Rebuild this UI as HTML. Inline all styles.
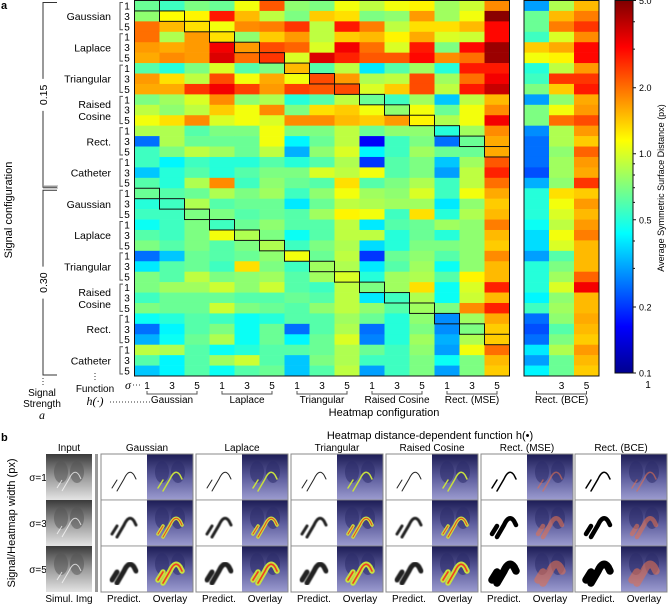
<!DOCTYPE html>
<html><head><meta charset="utf-8">
<style>
body{margin:0;background:#fff;}
svg{display:block;font-family:"Liberation Sans",Arial,sans-serif;}
</style></head>
<body>
<svg id="fig" width="668" height="604" viewBox="0 0 668 604" xmlns="http://www.w3.org/2000/svg">
<defs>
<linearGradient id="cbgrad" x1="0" y1="1" x2="0" y2="0">
<stop offset="0" stop-color="#00008f"/><stop offset="0.125" stop-color="#0000ff"/><stop offset="0.375" stop-color="#00ffff"/><stop offset="0.625" stop-color="#ffff00"/><stop offset="0.875" stop-color="#ff0000"/><stop offset="1" stop-color="#800000"/>
</linearGradient>
<linearGradient id="xray" x1="0" y1="0" x2="0" y2="1"><stop offset="0" stop-color="#3a3a3a"/><stop offset="0.5" stop-color="#9a9a9a"/><stop offset="1" stop-color="#e4e4e4"/></linearGradient>
<linearGradient id="ovl" x1="0" y1="0" x2="0" y2="1"><stop offset="0" stop-color="#1c1c55"/><stop offset="0.5" stop-color="#5c5c9c"/><stop offset="1" stop-color="#9c9cd0"/></linearGradient>
<filter id="blur1"><feGaussianBlur stdDeviation="0.6"/></filter>
</defs>
<g id="heat"></g>
<g id="panelb"></g>
</svg>
<script>
const values = [
[0.65,0.55,0.7,0.65,1.1,2.2,0.75,0.7, 1.1,0.9,1.1,1.2,0.8,0.95,1.8],
[0.75,1.15,1.2,2.8,1.5,0.9,0.7,1.4, 1.3,0.7,0.75,1.7,0.8,1.1,4.8],
[2.0,1.5,1.3,1.1,1.8,1.9,2.5,0.9, 2.8,1.9,0.9,1.3,1.3,1.5,3.0],
[2.0,0.85,1.7,1.3,0.75,1.4,1.7,0.9, 1.4,1.5,1.2,1.6,1.0,0.95,3.0],
[1.7,1.6,1.7,3.2,1.7,2.3,2.1,1.0, 3.2,2.0,1.0,2.8,0.7,3.0,4.5],
[1.6,1.8,1.7,3.5,2.0,2.5,1.0,3.5, 2.7,2.2,2.2,3.0,1.8,2.0,4.5],
[0.6,0.5,0.7,1.0,0.6,0.7,1.5,0.6, 0.9,0.4,0.6,0.8,0.5,2.8,2.8],
[1.7,1.3,0.9,2.3,1.1,1.6,1.1,2.3, 1.7,0.85,0.9,2.3,0.8,2.0,3.2],
[1.6,1.6,2.5,3.2,2.4,1.7,2.4,2.2, 2.3,1.0,1.4,2.3,0.9,2.8,3.8],
[0.7,0.8,1.0,1.8,0.75,0.85,0.5,0.6, 0.9,0.65,0.55,0.8,0.35,0.9,1.5],
[0.9,0.75,0.9,1.4,1.1,1.8,0.7,1.3, 1.4,1.1,0.75,1.1,0.65,1.1,1.8],
[1.1,1.3,1.8,1.0,1.1,1.0,1.8,1.8, 1.5,1.4,1.7,1.2,0.85,1.1,3.2],
[0.85,0.85,0.6,0.7,0.7,1.1,0.7,0.7, 0.9,0.65,0.75,0.75,0.5,0.8,1.8],
[0.25,0.85,0.65,0.65,0.65,1.1,0.42,0.65, 0.9,0.16,0.55,0.7,0.25,0.65,1.6],
[0.55,0.7,0.9,0.8,0.65,0.9,0.32,0.75, 1.0,0.42,0.55,0.8,0.65,0.65,1.6],
[0.55,0.42,0.55,0.5,0.5,0.6,0.5,0.6, 0.85,0.2,0.6,0.7,0.35,0.8,2.2],
[0.35,0.5,0.6,0.5,0.6,0.7,0.7,1.0, 0.9,1.1,0.6,0.7,0.3,0.9,2.7],
[0.6,0.5,0.85,1.8,0.55,0.75,0.65,0.6, 1.3,0.6,0.7,0.85,0.55,0.9,2.0],
[0.65,0.6,0.65,0.85,0.7,0.8,0.55,0.75, 1.1,0.8,0.75,1.0,0.55,1.1,1.6],
[0.5,0.55,0.85,0.6,0.65,0.65,0.4,0.65, 0.9,0.85,0.8,0.8,0.4,0.75,1.4],
[0.55,0.55,0.7,0.7,0.6,0.65,0.6,0.8, 1.2,1.1,0.55,1.3,0.5,0.85,1.5],
[0.45,0.55,0.7,0.55,0.65,0.75,0.6,0.6, 0.9,0.4,0.6,0.65,0.8,0.75,1.9],
[0.6,0.55,0.7,1.1,0.85,0.7,0.45,0.6, 0.9,0.9,0.5,0.65,0.5,0.75,1.5],
[0.7,0.6,0.7,0.6,0.7,0.85,0.55,0.7, 0.85,0.38,0.5,0.7,0.7,0.75,1.4],
[0.25,0.35,0.65,0.6,0.65,0.75,1.1,0.65, 0.9,0.2,0.65,0.75,0.6,0.75,1.8],
[0.4,0.6,0.65,0.55,1.3,0.7,0.55,0.8, 0.85,0.4,0.6,0.8,0.45,0.75,1.5],
[0.7,0.6,0.9,0.7,0.75,0.8,0.6,0.8, 1.0,0.5,0.8,0.85,0.6,1.2,1.5],
[0.7,0.8,0.8,0.95,0.75,0.95,0.6,0.55, 0.9,0.7,0.8,1.3,0.45,1.0,2.7],
[0.55,0.65,0.65,0.65,0.6,0.6,0.65,0.6, 0.9,0.4,0.55,0.85,0.45,0.95,1.5],
[0.7,0.65,0.65,0.95,0.7,0.65,0.6,0.75, 0.9,0.75,0.6,0.8,0.7,1.8,2.7],
[0.45,0.5,0.6,0.55,0.45,0.5,0.6,0.6, 0.8,0.65,0.5,0.75,0.28,0.8,1.6],
[0.25,0.42,0.6,0.7,0.45,0.65,0.25,0.6, 0.85,0.25,0.5,0.7,0.28,0.7,1.4],
[0.32,0.45,0.65,0.85,0.45,0.65,0.42,0.65, 1.0,0.27,0.5,0.8,0.32,0.85,1.4],
[0.9,0.85,0.6,0.45,0.5,0.6,0.6,0.65, 0.85,0.65,0.55,0.75,0.3,1.1,2.0],
[0.6,0.42,0.6,0.8,0.95,0.6,0.35,0.7, 0.85,0.55,0.55,0.7,0.45,0.7,1.5],
[0.35,0.42,0.6,0.45,0.6,0.65,0.35,0.6, 0.9,0.3,0.55,0.7,0.3,0.7,1.4]
];
const bceValues = [
[0.3,0.85,1.5],[0.65,1.5,1.9],[0.65,1.9,2.5],[0.55,1.0,1.8],[1.4,1.6,3.0],[1.1,1.2,3.0],
[0.5,0.9,1.7],[0.55,2.5,2.5],[0.7,1.4,2.8],[0.3,0.75,1.6],[0.7,1.1,1.7],[0.7,2.0,2.3],
[0.28,0.85,1.7],[0.25,0.85,1.4],[0.25,0.75,2.1],[0.25,0.8,1.7],[0.22,0.8,1.6],[0.32,0.75,2.5],
[0.5,1.3,1.4],[0.5,1.1,1.7],[0.5,1.0,1.5],[0.45,0.9,1.7],[0.38,1.1,1.9],[0.38,1.0,1.5],
[0.3,0.6,1.5],[0.5,0.7,1.5],[0.5,0.8,2.1],[0.5,1.0,3.2],[0.42,0.75,1.5],[0.55,0.8,1.5],
[0.25,0.75,1.6],[0.22,0.6,1.5],[0.25,0.7,1.4],[0.4,0.85,1.7],[0.3,0.65,1.5],[0.42,0.65,1.4]
];
const signals = ["Gaussian","Laplace","Triangular","Raised|Cosine","Rect.","Catheter"];
const strengths = ["0.15","0.30"];
const functions = ["Gaussian","Laplace","Triangular","Raised Cosine","Rect. (MSE)"];
const sigmas = ["1","3","5"];
const cbTicks = [5.0,2.0,1.0,0.5,0.2,0.1];
const cbTickLabels = ["5.0","2.0","1.0","0.5","0.2","0.1"];

const NS="http://www.w3.org/2000/svg";
function mk(tag,attrs,parent,text){const e=document.createElementNS(NS,tag);for(const k in attrs)e.setAttribute(k,attrs[k]);if(text!==undefined)e.textContent=text;parent.appendChild(e);return e;}
const VMIN=0.1,VMAX=5.0;
function tScale(v){return Math.max(0,Math.min(1,Math.log(v/VMIN)/Math.log(VMAX/VMIN)));}
function jet(v){const t=tScale(v);const c=x=>Math.round(255*Math.max(0,Math.min(1,x)));
 return `rgb(${c(1.5-Math.abs(4*t-3))},${c(1.5-Math.abs(4*t-2))},${c(1.5-Math.abs(4*t-1))})`;}
const X0=134.5,Y0=0.5,CW=25,NR=values.length,CH=375.5/NR,BX0=524;
const xCol=i=>X0+i*CW, yRow=j=>Y0+j*CH;
const CBX=615,CBW=18,CBTOP=0.5,CBBOT=373;
const yCb=v=>CBBOT-tScale(v)*(CBBOT-CBTOP);

const H=document.getElementById('heat');
mk('text',{x:1,y:9,'font-size':11,'font-weight':'bold'},H,'a');
values.forEach((row,j)=>row.forEach((v,i)=>{
 const r=mk('rect',{x:xCol(i),y:yRow(j),width:CW+0.3,height:CH+0.3,fill:jet(v)},H);
 
 
}));
bceValues.forEach((row,j)=>row.forEach((v,i)=>{
 const r=mk('rect',{x:BX0+i*CW,y:yRow(j),width:CW+0.3,height:CH+0.3,fill:jet(v)},H);
 
 
}));
for(let s=0;s<2;s++)for(let d=0;d<15;d++){
 const r=mk('rect',{x:xCol(d),y:yRow(s*18+d),width:CW,height:CH,fill:'none',stroke:'#111','stroke-width':1},H);
 
 
}
mk('rect',{x:X0,y:Y0,width:15*CW,height:NR*CH,fill:'none',stroke:'#111','stroke-width':1},H);
mk('rect',{x:BX0,y:Y0,width:3*CW,height:NR*CH,fill:'none',stroke:'#111','stroke-width':1},H);
strengths.forEach((st,s)=>{
 signals.forEach((sg,g)=>{
  const base=s*18+g*3;
  const yc=yRow(base+1.5);
  const parts=sg.split('|');
  parts.forEach((p,k)=>{
   const t=mk('text',{x:111,y:yc+4+(parts.length>1?(k-0.5)*12:0),'font-size':10.5,'text-anchor':'end'},H,p);
   
  });
  mk('path',{d:`M123,${yRow(base)+2} h-3 V${yRow(base+3)-2} h3`,fill:'none',stroke:'#555','stroke-width':1},H);
  sigmas.forEach((sm,k)=>{mk('text',{x:127,y:yRow(base+k)+CH/2+3.7,'font-size':10,'text-anchor':'middle'},H,sm);});
 });
 const ya=yRow(s*18)+2, yb=yRow(s*18+18)-1, ym=(ya+yb)/2;
 mk('path',{d:`M57,${ya} H43 V${ym-16} M43,${ym+16} V${yb} H57`,fill:'none',stroke:'#333','stroke-width':1},H);
 const t=mk('text',{x:0,y:0,'font-size':10.5,'text-anchor':'middle',transform:`translate(47,${ym}) rotate(-90)`},H,st);
 
});
mk('path',{d:`M43,186 H58 M43,188 H58`,stroke:'#999','stroke-width':1},H);
mk('text',{x:0,y:0,'font-size':11,'text-anchor':'middle',transform:'translate(12,210) rotate(-90)'},H,'Signal configuration');
mk('path',{d:'M43,378 v8',stroke:'#333','stroke-dasharray':'1,2'},H);
mk('path',{d:'M95,373 v8',stroke:'#333','stroke-dasharray':'1,2'},H);
mk('text',{x:42,y:396,'font-size':10,'text-anchor':'middle'},H,'Signal');
mk('text',{x:42,y:407,'font-size':10,'text-anchor':'middle'},H,'Strength');
mk('text',{x:42,y:419,'font-size':12,'font-style':'italic','text-anchor':'middle','font-family':'Liberation Serif,serif'},H,'a');
mk('text',{x:95,y:392,'font-size':10,'text-anchor':'middle'},H,'Function');
mk('text',{x:95,y:405,'font-size':12,'font-style':'italic','text-anchor':'middle','font-family':'Liberation Serif,serif'},H,'h(·)');
mk('path',{d:'M110,402 H150',stroke:'#333','stroke-dasharray':'1,2'},H);
mk('text',{x:128,y:389,'font-size':12,'font-style':'italic','text-anchor':'middle','font-family':'Liberation Serif,serif'},H,'σ');
mk('path',{d:'M133,385 H142',stroke:'#333','stroke-dasharray':'1,2'},H);
functions.forEach((f,fi)=>{
 sigmas.forEach((sm,k)=>{mk('text',{x:xCol(fi*3+k)+CW/2,y:389,'font-size':10,'text-anchor':'middle'},H,sm);});
 const xa=xCol(fi*3)+CW/2, xb=xCol(fi*3+2)+CW/2;
 mk('path',{d:`M${xa},391 v3 H${xb} v-3`,fill:'none',stroke:'#555'},H);
 const t=mk('text',{x:(xa+xb)/2,y:403,'font-size':10,'text-anchor':'middle'},H,f);
 
});
['','3','5'].forEach((sm,k)=>{if(sm)mk('text',{x:BX0+k*CW+CW/2,y:389,'font-size':10,'text-anchor':'middle'},H,sm);});
mk('path',{d:`M${BX0+CW/2},391 v3 H${BX0+2.5*CW} v-3`,fill:'none',stroke:'#555'},H);
mk('text',{x:BX0+1.5*CW,y:403,'font-size':10,'text-anchor':'middle'},H,'Rect. (BCE)');
mk('text',{x:384,y:416,'font-size':11,'text-anchor':'middle'},H,'Heatmap configuration');
mk('rect',{x:CBX,y:CBTOP,width:CBW,height:CBBOT-CBTOP,fill:'url(#cbgrad)',stroke:'#111','stroke-width':1},H);
cbTicks.forEach((v,i)=>{const y=yCb(v);mk('path',{d:`M${CBX+CBW},${y} h3`,stroke:'#111'},H);
 mk('text',{x:639,y:y+3.5,'font-size':9},H,cbTickLabels[i]);});
[4,3,0.9,0.8,0.7,0.6,0.4,0.3].forEach(v=>{mk('path',{d:`M${CBX+CBW},${yCb(v)} h2`,stroke:'#111'},H);});
mk('text',{x:648,y:388,'font-size':10,'text-anchor':'middle'},H,'1');
mk('text',{x:0,y:0,'font-size':9,'text-anchor':'middle',transform:'translate(664,188) rotate(-90)'},H,'Average Symmetric Surface Distance (px)');

const B=document.getElementById('panelb');
mk('text',{x:1,y:441,'font-size':11,'font-weight':'bold'},B,'b');
mk('text',{x:430,y:439,'font-size':11,'text-anchor':'middle'},B,'Heatmap distance-dependent function h(•)');
mk('text',{x:0,y:0,'font-size':11,'text-anchor':'middle',transform:'translate(15,523) rotate(-90)'},B,'Signal/Heatmap width (px)');
const rowsY=[454,500,546], IW=46, IH=46;
const curve="M11,34 L16,26 M16,37 L23,25 Q28,14 33,21 L35,25";
function xray(x,y,tint){
 const g=mk('g',{},B);
 mk('rect',{x:x,y:y,width:IW,height:IH,fill:tint?'url(#ovl)':'url(#xray)'},g);
 mk('ellipse',{cx:x+15,cy:y+18,rx:7,ry:11,fill:tint?'#2c2c6a':'#555',opacity:0.55},g);
 mk('ellipse',{cx:x+31,cy:y+18,rx:7,ry:11,fill:tint?'#2c2c6a':'#555',opacity:0.55},g);
 return g;
}
rowsY.forEach((y,r)=>{
 mk('text',{x:38,y:y+27,'font-size':10,'text-anchor':'middle'},B,'σ='+sigmas[r]);
 const g=xray(46,y,false);
 mk('path',{d:curve,transform:`translate(46,${y})`,fill:'none',stroke:'#fff','stroke-width':1,opacity:0.7},B);
});
mk('rect',{x:95,y:454,width:3,height:138,fill:'#999'},B);
mk('text',{x:69,y:451,'font-size':10,'text-anchor':'middle'},B,'Input');
mk('text',{x:69,y:602,'font-size':10,'text-anchor':'middle'},B,'Simul. Img');
const groups=["Gaussian","Laplace","Triangular","Raised Cosine","Rect. (MSE)","Rect. (BCE)"];
const gx=[101,196,291,386,481,575];
groups.forEach((name,gi)=>{
 const x=gx[gi];
 mk('text',{x:x+46,y:451,'font-size':10,'text-anchor':'middle'},B,name);
 rowsY.forEach((y,r)=>{
  const sw=[1,3,5][r]*(gi>=4?1.5:1);
  mk('rect',{x:x,y:y,width:IW,height:IH,fill:'#fff'},B);
  mk('path',{d:curve,transform:`translate(${x},${y})`,fill:'none',stroke:gi>=4?'#000':'#222','stroke-width':sw,'stroke-linecap':'round',filter:r>0&&gi<4?'url(#blur1)':''},B);
  xray(x+46,y,true);
  if(gi>=4){mk('path',{d:curve,transform:`translate(${x+46},${y})`,fill:'none',stroke:'#e07050','stroke-width':sw,'stroke-linecap':'round',opacity:0.6},B);}
  else{mk('path',{d:curve,transform:`translate(${x+46},${y})`,fill:'none',stroke:'#c8e040','stroke-width':sw+0.5,'stroke-linecap':'round'},B);
   if(r>0)mk('path',{d:curve,transform:`translate(${x+46},${y})`,fill:'none',stroke:'#f04020','stroke-width':sw/3,'stroke-linecap':'round'},B);}
  mk('rect',{x:x,y:y,width:92,height:IH,fill:'none',stroke:'#888','stroke-width':0.8},B);
 });
 mk('rect',{x:x,y:454,width:92,height:138,fill:'none',stroke:'#888','stroke-width':1},B);
 mk('text',{x:x+23,y:602,'font-size':10,'text-anchor':'middle'},B,'Predict.');
 mk('text',{x:x+69,y:602,'font-size':10,'text-anchor':'middle'},B,'Overlay');
});
</script>
</body></html>
